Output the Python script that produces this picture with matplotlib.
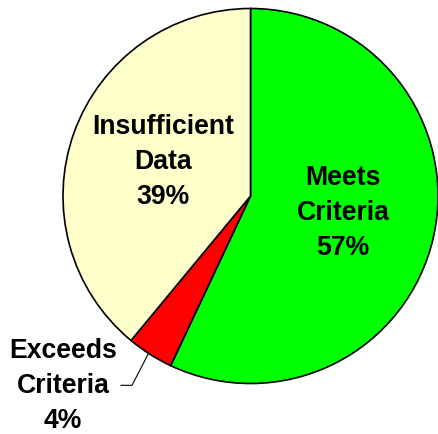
import matplotlib.pyplot as plt
import numpy as np

labels = ['Meets\nCriteria\n57%', 'Exceeds\nCriteria\n4%', 'Insufficient\nData\n39%']
values = [57, 4, 39]
colors = ['#00FF00', '#FF0000', '#FFFFCC']

plt.rcParams['font.family'] = ['Liberation Sans', 'DejaVu Sans']

fig = plt.figure(figsize=(4.38, 4.34), dpi=100)
ax = fig.add_axes([0, 0, 1, 1])

cx, cy, r = 250.5, 434 - 196, 187.5
wedges, _ = ax.pie(values, colors=colors, startangle=90, counterclock=False,
                   center=(cx, cy), radius=r,
                   wedgeprops=dict(edgecolor='black', linewidth=1.2))
ax.set_xlim(0, 438)
ax.set_ylim(0, 434)
ax.set_aspect('equal')
ax.axis('off')

font = dict(fontsize=19.2, fontweight='bold', ha='center', va='center', linespacing=1.45)
ax.text(343, 434 - 213, labels[0], **font)
ax.text(163, 434 - 162, labels[2], **font)

# leader line for the small slice
w = wedges[1]
mid = np.deg2rad((w.theta1 + w.theta2) / 2)
px, py = cx + r * np.cos(mid), cy + r * np.sin(mid)
ax.plot([px - 2, px - 18, px - 29], [py, py - 31, py - 31], color='black', lw=0.8)
ax.text(63, 434 - 386, labels[1], **font)

fig.savefig('out.png', dpi=100)
